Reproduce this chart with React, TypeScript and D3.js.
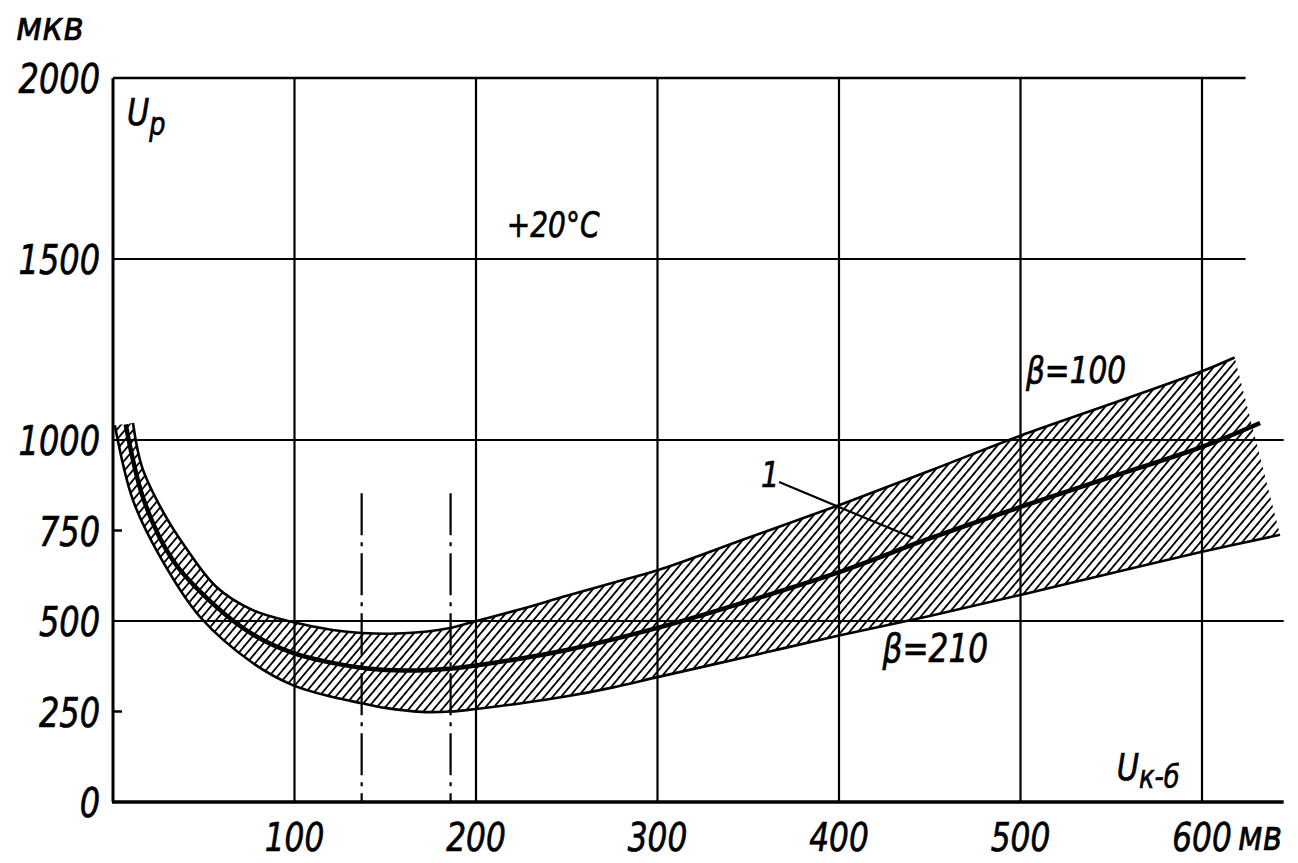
import React from "react";
import * as d3 from "d3";

// ---- data ----
const xTicks = [100, 200, 300, 400, 500, 600];
const yTickLabels = [0, 250, 500, 750, 1000, 1500, 2000];
const yGrid = [500, 1000, 1500, 2000];
const yShortTicks = [250, 750];
const dashDotX = [137, 186];

// beta = 100 (upper boundary)
const upperX = [11, 16, 27, 41, 57, 77, 99, 121, 137, 160, 185, 200, 225, 250, 275, 300, 350, 400, 450, 500, 550, 600, 618];
const upperY = [1047, 925, 807, 696, 594, 530, 497, 475, 467, 466, 480, 500, 533, 570, 605, 640, 730, 820, 915, 1012, 1100, 1190, 1228];

// curve 1 (middle, thick)
const middleX = [7, 17, 33, 57, 78, 99, 120, 140, 160, 185, 200, 250, 300, 350, 400, 450, 500, 550, 600, 632];
const middleY = [1043, 834, 668, 539, 460, 412, 385, 369, 363, 368, 377, 420, 481, 555, 635, 728, 815, 898, 981, 1047];

// beta = 210 (lower boundary)
const lowerX = [1, 11, 26, 48, 77, 99, 121, 137, 150, 170, 186, 200, 225, 250, 275, 300, 350, 400, 450, 500, 550, 600, 643];
const lowerY = [1041, 834, 677, 511, 384, 323, 290, 273, 260, 249, 250, 257, 273, 292, 316, 345, 402, 460, 514, 572, 632, 691, 738];

const W = 1298;
const H = 863;

const x = d3.scaleLinear().domain([0, 600]).range([113, 1202]);
const y = d3.scaleLinear().domain([0, 2000]).range([802, 78]);

const FONT = "'DejaVu Sans', sans-serif";

function T({ px, py, anchor = "start", size = 40, sx = 0.8, children }: any) {
  return (
    <text
      transform={`translate(${px},${py}) scale(${sx},1)`}
      textAnchor={anchor}
      fontSize={size}
      fontStyle="italic"
      fontFamily={FONT}
      fill="#000"
      stroke="#000"
      strokeWidth={0.7}
    >
      {children}
    </text>
  );
}

export default function App() {
  const toPts = (xs: number[], ys: number[]) => xs.map((v, i) => [v, ys[i]] as [number, number]);
  const upper = toPts(upperX, upperY);
  const middle = toPts(middleX, middleY);
  const lower = toPts(lowerX, lowerY);

  const line = d3
    .line<[number, number]>()
    .x((d) => x(d[0]))
    .y((d) => y(d[1]))
    .curve(d3.curveCatmullRom.alpha(0.5));

  const upperPath = line(upper) || "";
  const lowerPath = line(lower) || "";
  const lowerRev = (line([...lower].reverse()) || "").replace(/^M/, "L");
  const bandPath = upperPath + lowerRev + "Z";

  const xEndLow = 645;
  const xEndHigh = 624;

  return (
    <svg
      width={W}
      height={H}
      style={{ position: "absolute", left: 0, top: 0, display: "block", background: "#fff" }}
    >
      <defs>
        <pattern id="hatch" patternUnits="userSpaceOnUse" width={6.4} height={6.4} patternTransform="rotate(40)">
          <rect x={0} y={0} width={1.8} height={6.4} fill="#000" />
        </pattern>
      </defs>
      <rect x={0} y={0} width={W} height={H} fill="#fff" />

      {/* horizontal grid */}
      {yGrid.map((v) => (
        <line
          key={"h" + v}
          x1={x(0)}
          x2={x(v >= 1500 ? xEndHigh : xEndLow)}
          y1={y(v)}
          y2={y(v)}
          stroke="#000"
          strokeWidth={v === 2000 ? 2.6 : 2.2}
        />
      ))}
      {/* vertical grid */}
      {xTicks.map((v) => (
        <line key={"v" + v} x1={x(v)} x2={x(v)} y1={y(0)} y2={y(2000)} stroke="#000" strokeWidth={2.2} />
      ))}
      {/* axes */}
      <line x1={x(0)} x2={x(0)} y1={y(0)} y2={y(2000)} stroke="#000" strokeWidth={3} />
      <line x1={x(0) - 1} x2={x(xEndLow)} y1={y(0)} y2={y(0)} stroke="#000" strokeWidth={3.5} />
      {yShortTicks.map((v) => (
        <line key={"st" + v} x1={x(0)} x2={x(0) + 9} y1={y(v)} y2={y(v)} stroke="#000" strokeWidth={2.5} />
      ))}

      {/* dash-dot lines */}
      {dashDotX.map((v) => (
        <line
          key={"dd" + v}
          x1={x(v)}
          x2={x(v)}
          y1={y(853)}
          y2={y(0)}
          stroke="#000"
          strokeWidth={2.2}
          strokeDasharray="42 7 4 7"
        />
      ))}

      {/* hatched band */}
      <path d={bandPath} fill="url(#hatch)" stroke="none" />
      <path d={upperPath} fill="none" stroke="#000" strokeWidth={2.6} />
      <path d={lowerPath} fill="none" stroke="#000" strokeWidth={2.6} />
      <path d={line(middle) || ""} fill="none" stroke="#000" strokeWidth={4.5} />

      {/* leader for "1" */}
      <line x1={x(367)} y1={y(884)} x2={x(441)} y2={y(729)} stroke="#000" strokeWidth={2.2} />

      {/* y tick labels */}
      {yTickLabels.map((v) => (
        <T key={"yl" + v} px={100} py={y(v) + 15} anchor="end">
          {String(v)}
        </T>
      ))}
      {/* x tick labels */}
      {xTicks.map((v) => (
        <T key={"xl" + v} px={x(v)} py={851} anchor="middle" size={39}>
          {String(v)}
        </T>
      ))}
      <T px={1238} py={850} size={42} sx={0.78}>
        мв
      </T>
      <T px={16} py={40} size={40} sx={0.87}>
        мкв
      </T>

      {/* annotations */}
      <T px={x(7.7)} py={y(1870)} size={38}>
        U<tspan fontSize={32} dy={10}>р</tspan>
      </T>
      <T px={x(217)} py={y(1561)} size={35}>
        +20°C
      </T>
      <T px={x(503)} py={y(1157)} size={37}>
        β=100
      </T>
      <T px={x(424)} py={y(387)} size={39}>
        β=210
      </T>
      <T px={x(357)} py={y(870)} size={36}>
        1
      </T>
      <T px={x(553)} py={y(61)} size={38}>
        U<tspan fontSize={32} dy={8}>к-б</tspan>
      </T>
    </svg>
  );
}
